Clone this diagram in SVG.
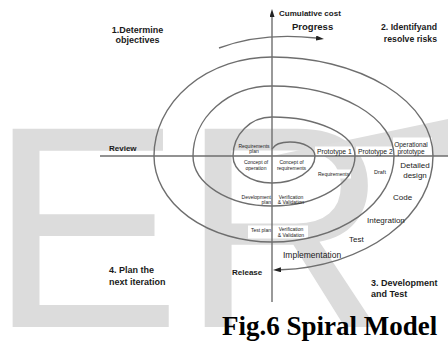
<svg xmlns="http://www.w3.org/2000/svg" width="448" height="341" viewBox="0 0 448 341">
<defs>
<style>
.wm{font-family:"Liberation Sans",Arial,sans-serif;font-size:288px;fill:#dcdcdc}
.ln{fill:none;stroke:#6e6e6e;stroke-width:1.4}
.t{font-family:"Liberation Sans",Arial,sans-serif;fill:#1a1a1a}
.b9{font-weight:bold;font-size:9px}
.b8{font-weight:bold;font-size:8px}
.r8{font-size:8px}
.r7{font-size:6.8px}
.r5{font-size:5px}
.c{text-anchor:middle}
.e{text-anchor:end}
.box{fill:#fff}
.cap{font-family:"Liberation Serif","Times New Roman",serif;font-weight:bold;font-size:27px;fill:#000}
</style>
<marker id="ah" markerWidth="8" markerHeight="5" refX="0" refY="2.5" orient="auto" markerUnits="userSpaceOnUse"><path d="M0,0 L8,2.5 L0,5 Z" fill="#222"/></marker>
</defs>
<rect width="448" height="341" fill="#fff"/>
<g id="watermark"><text class="wm" x="-11" y="327">ER</text></g>
<g id="shading">
<path d="M272,156 L448,119 L448,156 Z" fill="#dedede"/>
<rect class="box" x="315" y="146.5" width="39" height="9"/>
<rect class="box" x="356" y="146.5" width="37" height="9"/>
<rect class="box" x="393" y="137.5" width="39" height="18"/>
<rect class="box" x="316" y="169.5" width="35" height="9"/>
<rect class="box" x="248" y="225.5" width="60" height="13"/>
</g>
<g id="connectors">
<path class="ln" d="M100,156 H448"/>
<path class="ln" d="M272,302 V17" marker-end="url(#ah)"/>
<path class="ln" d="M272,149 C275,143.5 281,142 290,142 A25,14 0 0 1 315,156 A43,27 0 0 1 272,183 A39,27 0 0 1 233,156 A39,39 0 0 1 272,117 A83,39 0 0 1 355,156 A83,50 0 0 1 272,206 A79,50 0 0 1 193,156 A79,70 0 0 1 272,86 A122,70 0 0 1 394,156 A122,86 0 0 1 272,242 A118,86 0 0 1 154,156 A118,99 0 0 1 272,57 A161,99 0 0 1 433,156 A161,114 0 0 1 281,269.8" marker-end="url(#ah)"/>
<path class="ln" d="M219,48 Q262,32 316,38" marker-end="url(#ah)"/>
</g>
<g id="quadrant-labels" class="t">
<text class="b9 c" x="137.5" y="32.5">1.Determine</text>
<text class="b9 c" x="137.5" y="42.5">objectives</text>
<text class="b9 e" x="437" y="29.5" style="font-size:8.7px">2. Identifyand</text>
<text class="b9 e" x="437" y="42" style="font-size:8.7px">resolve risks</text>
<text class="b9" x="109" y="273">4. Plan the</text>
<text class="b9" x="109" y="285">next iteration</text>
<text class="b9" x="371" y="285.5">3. Development</text>
<text class="b9" x="371" y="297">and Test</text>
</g>
<g id="axis-labels" class="t">
<text class="b8" x="279" y="16">Cumulative cost</text>
<text class="b9" x="292" y="30" style="font-size:9.5px">Progress</text>
<text class="b8" x="109" y="150.5">Review</text>
<text class="b8" x="232" y="275">Release</text>
</g>
<g id="phase-labels" class="t">
<text class="r8" x="283" y="258" style="font-size:8.5px">Implementation</text>
<text class="r8" x="349" y="242">Test</text>
<text class="r8" x="367" y="223">Integration</text>
<text class="r8" x="393" y="200">Code</text>
<text class="r8 c" x="415" y="168">Detailed</text>
<text class="r8 c" x="415" y="178">design</text>
<text class="c" x="411" y="146.5" style="font-size:6.5px">Operational</text>
<text class="c" x="411" y="153.5" style="font-size:6.5px">prototype</text>
<text class="r7" x="317" y="153.5">Prototype 1</text>
<text class="r7" x="358" y="153.5">Prototype 2</text>
<text class="r5" x="318" y="176">Requirements</text>
<text class="r5" x="374" y="174" style="font-size:5.5px">Draft</text>
</g>
<g id="inner-labels" class="t">
<text class="r5 c" x="254" y="147.8">Requirements</text>
<text class="r5 c" x="254" y="153">plan</text>
<text class="r5 c" x="256" y="164.3">Concept of</text>
<text class="r5 c" x="256" y="170">operation</text>
<text class="r5 c" x="291.5" y="164.3">Concept of</text>
<text class="r5 c" x="291.5" y="170">requirements</text>
<text class="r5 e" x="271" y="198.5">Development</text>
<text class="r5 e" x="271" y="203.8">plan</text>
<text class="r5 c" x="291" y="198.5">Verification</text>
<text class="r5 c" x="291" y="204">&amp; Validation</text>
<text class="r5 e" x="271" y="232">Test plan</text>
<text class="r5 c" x="291" y="231.3">Verification</text>
<text class="r5 c" x="291" y="236.8">&amp; Validation</text>
</g>
<g id="caption"><text class="cap" x="222" y="335">Fig.6 Spiral Model</text></g>
</svg>
